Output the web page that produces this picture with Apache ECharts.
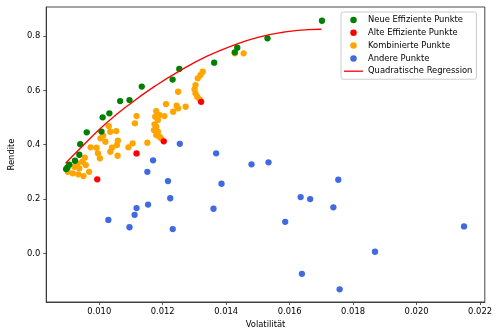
<!DOCTYPE html>
<html>
<head>
<meta charset="utf-8">
<script src="https://cdn.jsdelivr.net/npm/echarts@6/dist/echarts.min.js"></script>
<style>
  html, body { margin: 0; padding: 0; background: #fff; }
  #chart { width: 495px; height: 334px; }
</style>
</head>
<body>
<div id="chart"></div>
<script>
// Volatilität (x) / Rendite (y) pairs per point group
const neueEffiziente = [
  [0.008957, 0.3104], [0.009000, 0.3166], [0.009056, 0.3270], [0.009235, 0.3410],
  [0.009372, 0.3630], [0.009402, 0.4020], [0.009607, 0.4455], [0.010071, 0.4485],
  [0.010108, 0.5007], [0.010319, 0.5155], [0.010659, 0.5607], [0.010954, 0.5644],
  [0.011341, 0.6140], [0.012313, 0.6400], [0.012523, 0.6790], [0.013622, 0.7020],
  [0.014272, 0.7400], [0.014350, 0.7570], [0.015303, 0.7916], [0.017019, 0.8564]
];

const alteEffiziente = [
  [0.009938, 0.2725], [0.011176, 0.3680], [0.012034, 0.4124], [0.013211, 0.5580]
];

const kombinierte = [
  [0.011176, 0.5055], [0.011124, 0.4786], [0.010300, 0.4687], [0.010536, 0.4503],
  [0.010350, 0.4477], [0.010040, 0.4234], [0.010195, 0.4109], [0.010588, 0.4146],
  [0.010557, 0.3987], [0.010402, 0.3888], [0.011053, 0.4050], [0.010920, 0.3903],
  [0.009731, 0.3903], [0.009916, 0.3888], [0.009960, 0.3682], [0.010022, 0.3498],
  [0.010579, 0.3594], [0.010350, 0.3741], [0.009545, 0.3520], [0.009474, 0.3373],
  [0.009319, 0.3314], [0.009576, 0.3251], [0.009217, 0.3189], [0.009372, 0.3130],
  [0.009009, 0.3004], [0.009164, 0.2946], [0.009341, 0.2909], [0.009505, 0.2846],
  [0.009681, 0.3004], [0.010124, 0.4337],
  [0.014551, 0.7364], [0.014272, 0.7364], [0.013260, 0.6686], [0.013189, 0.6565],
  [0.013105, 0.6443], [0.013034, 0.6197], [0.013003, 0.6038], [0.013034, 0.5891],
  [0.013087, 0.5766], [0.013167, 0.5670], [0.012486, 0.5950], [0.012105, 0.5497],
  [0.012437, 0.5435], [0.012486, 0.5339], [0.012331, 0.5214], [0.012724, 0.5398],
  [0.011796, 0.5239], [0.011765, 0.5029], [0.011898, 0.5092], [0.012053, 0.5055],
  [0.011848, 0.4908], [0.011743, 0.4750], [0.011796, 0.4661], [0.011724, 0.4540],
  [0.011848, 0.4477], [0.011796, 0.4356], [0.011898, 0.4293], [0.011950, 0.4234],
  [0.011517, 0.4072]
];

const andere = [
  [0.012539, 0.4032], [0.013684, 0.3682], [0.014799, 0.3277], [0.015334, 0.3351],
  [0.011697, 0.3424], [0.011517, 0.3004], [0.012167, 0.2662], [0.013854, 0.2563],
  [0.012238, 0.2029], [0.011539, 0.1797], [0.013601, 0.1642], [0.011176, 0.1668],
  [0.011115, 0.1421], [0.010288, 0.1233], [0.010954, 0.0961], [0.012316, 0.0895],
  [0.017533, 0.2710], [0.016347, 0.2073], [0.016647, 0.2000], [0.017378, 0.1694],
  [0.015861, 0.1163], [0.021495, 0.0994], [0.018690, 0.0059], [0.016387, -0.0751],
  [0.017576, -0.1325]
];

// Fitted curve, sampled along its length
const regression = [
  [0.00894, 0.332], [0.0095, 0.398], [0.0102, 0.477], [0.0110, 0.553],
  [0.0118, 0.619], [0.0126, 0.676], [0.0134, 0.726], [0.0142, 0.765],
  [0.0150, 0.795], [0.0158, 0.814], [0.0166, 0.824], [0.0170, 0.825]
];

const xTicks = [0.010, 0.012, 0.014, 0.016, 0.018, 0.020, 0.022];
const yTicks = [0.0, 0.2, 0.4, 0.6, 0.8];

const FONT = 'DejaVu Sans';
const chart = echarts.init(document.getElementById('chart'), null, { renderer: 'canvas' });

function dots(name, data, color, z) {
  return {
    name, type: 'scatter', data, z,
    symbol: 'circle', symbolSize: 6.3,
    itemStyle: { color, opacity: 1 },
    emphasis: { disabled: true }
  };
}

// plain line swatch for the regression legend entry
const LINE_ICON = 'path://M0,0 L19,0 L19,1.3 L0,1.3 Z';

chart.setOption({
  animation: false,
  backgroundColor: '#ffffff',
  grid: {
    left: 43, right: 6, top: 7, bottom: 32,
    show: true, borderColor: '#333', borderWidth: 0.9, backgroundColor: 'transparent'
  },
  xAxis: {
    type: 'value', min: 0.00833, max: 0.02215,
    name: 'Volatilität', nameLocation: 'middle', nameGap: 18,
    nameTextStyle: { fontFamily: FONT, fontSize: 8.4, color: '#000' },
    axisLine: { show: true, onZero: false, lineStyle: { color: '#333', width: 0.9 } },
    axisTick: { show: true, inside: false, length: 3, customValues: xTicks, lineStyle: { color: '#333', width: 0.8 } },
    axisLabel: {
      customValues: xTicks, margin: 6,
      fontFamily: FONT, fontSize: 8.4, color: '#000',
      formatter: v => v.toFixed(3)
    },
    splitLine: { show: false }
  },
  yAxis: {
    type: 'value', min: -0.179, max: 0.907,
    name: 'Rendite', nameLocation: 'middle', nameGap: 21, nameRotate: 90,
    nameTextStyle: { fontFamily: FONT, fontSize: 8.4, color: '#000' },
    axisLine: { show: true, onZero: false, lineStyle: { color: '#333', width: 0.9 } },
    axisTick: { show: true, inside: false, length: 3, customValues: yTicks, lineStyle: { color: '#333', width: 0.8 } },
    axisLabel: {
      customValues: yTicks, margin: 6,
      fontFamily: FONT, fontSize: 8.4, color: '#000',
      formatter: v => v.toFixed(1)
    },
    splitLine: { show: false }
  },
  legend: {
    orient: 'vertical', left: 341, top: 12,
    padding: [4, 4, 4, 3],
    itemWidth: 19, itemHeight: 6.5, itemGap: 4.8,
    textStyle: { fontFamily: FONT, fontSize: 8.4, color: '#000' },
    borderColor: '#cccccc', borderWidth: 1, borderRadius: 2,
    backgroundColor: 'rgba(255,255,255,0.8)',
    data: [
      { name: 'Neue Effiziente Punkte' },
      { name: 'Alte Effiziente Punkte' },
      { name: 'Kombinierte Punkte' },
      { name: 'Andere Punkte' },
      { name: 'Quadratische Regression', icon: LINE_ICON, itemStyle: { color: '#ff0000' } }
    ]
  },
  series: [
    dots('Neue Effiziente Punkte', neueEffiziente, '#008000', 5),
    dots('Alte Effiziente Punkte', alteEffiziente, '#ff0000', 4),
    dots('Kombinierte Punkte', kombinierte, '#ffa500', 2),
    dots('Andere Punkte', andere, '#4169e1', 3),
    {
      name: 'Quadratische Regression', type: 'line', data: regression, z: 6,
      smooth: true, showSymbol: false, symbol: 'none',
      lineStyle: { color: '#ff0000', width: 1.3 },
      itemStyle: { color: '#ff0000' },
      emphasis: { disabled: true }
    }
  ]
});
</script>
</body>
</html>
